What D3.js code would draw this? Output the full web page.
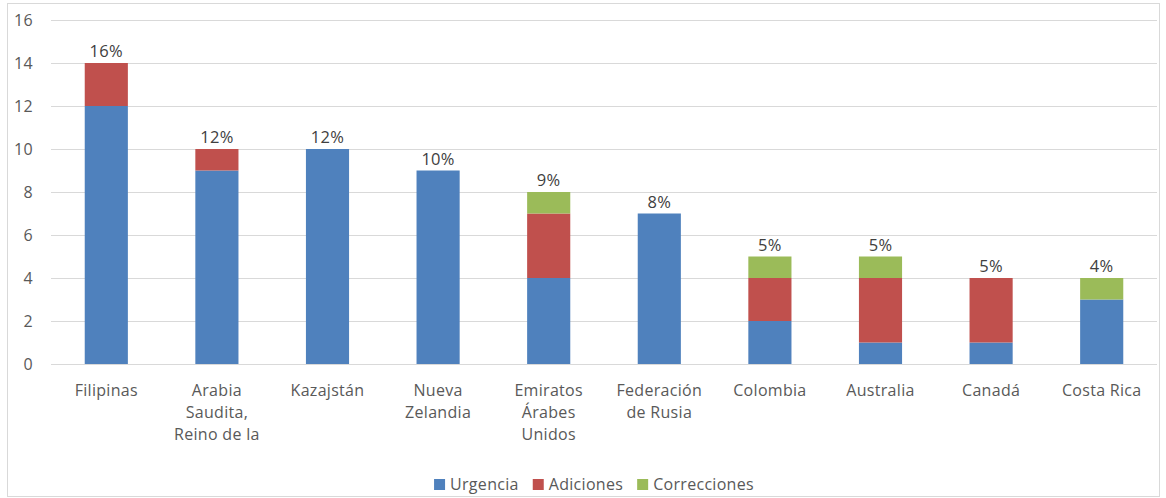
<!DOCTYPE html>
<html><head><meta charset="utf-8">
<script src="https://cdn.jsdelivr.net/npm/d3@7"></script>
<style>body{margin:0;background:#fff;} text{font-family:"Open Sans","Noto Sans",sans-serif;letter-spacing:0.3px;}</style>
</head><body>
<svg id="c" width="1166" height="498"></svg>
<script>
const categories = [["Filipinas"],["Arabia","Saudita,","Reino de la"],["Kazajstán"],["Nueva","Zelandia"],["Emiratos","Árabes","Unidos"],["Federación","de Rusia"],["Colombia"],["Australia"],["Canadá"],["Costa Rica"]];
const urgencia = [12,9,10,9,4,7,2,1,1,3];
const adiciones = [2,1,0,0,3,0,2,3,3,0];
const correcciones = [0,0,0,0,1,0,1,1,0,1];
const pctLabels = ["16%","12%","12%","10%","9%","8%","5%","5%","5%","4%"];
const seriesNames = ["Urgencia","Adiciones","Correcciones"];
const colors = ["#4F81BD","#C0504D","#9BBB59"];
const yTicks = [0,2,4,6,8,10,12,14,16];

(function(){
const svg = d3.select("#c");
svg.append("rect").attr("x",7.5).attr("y",3.5).attr("width",1152).attr("height",493).attr("fill","#fff").attr("stroke","#d9d9d9");

const mL=51, mR=1157, mT=20, mB=364;
const x = d3.scaleBand().domain(d3.range(categories.length)).range([mL,mR]).paddingInner(0.61).paddingOuter(0.305);
const y = d3.scaleLinear().domain([0,16]).range([mB,mT]);

const yAxis = d3.axisLeft(y).tickValues(yTicks).tickSize(-(mR-mL)).tickPadding(18);
const ga = svg.append("g").attr("transform",`translate(${mL},0)`).call(yAxis);
ga.select(".domain").remove();
ga.selectAll(".tick line").attr("stroke","#d9d9d9");
ga.selectAll(".tick text").attr("fill","#595959").style("font-size","16px");

const table = categories.map((c,i)=>({i, Urgencia:urgencia[i], Adiciones:adiciones[i], Correcciones:correcciones[i]}));
const stack = d3.stack().keys(seriesNames)(table);
stack.forEach((s,k)=>{
  svg.append("g").selectAll("rect").data(s).join("rect")
    .attr("x",d=>x(d.data.i)).attr("width",x.bandwidth())
    .attr("y",d=>y(d[1])).attr("height",d=>y(d[0])-y(d[1]))
    .attr("fill",colors[k]);
});

svg.append("g").selectAll("text").data(table).join("text")
  .attr("x",d=>x(d.i)+x.bandwidth()/2)
  .attr("y",d=>y(d.Urgencia+d.Adiciones+d.Correcciones)-6)
  .attr("text-anchor","middle").attr("fill","#404040").style("font-size","16.5px")
  .text(d=>pctLabels[d.i]);

const cg = svg.append("g").selectAll("text").data(categories).join("text")
  .attr("x",(d,i)=>x(i)+x.bandwidth()/2).attr("y",396)
  .attr("text-anchor","middle").attr("fill","#595959").style("font-size","16px");
cg.each(function(d,i){
  const t=d3.select(this);
  d.forEach((line,j)=>t.append("tspan").attr("x",x(i)+x.bandwidth()/2).attr("dy",j===0?0:22).text(line));
});

const lg = svg.append("g");
const items = lg.selectAll("g").data(seriesNames).join("g");
items.append("rect").attr("width",11).attr("height",11).attr("y",-11).attr("fill",(d,i)=>colors[i]);
items.append("text").attr("x",16).attr("y",0).attr("fill","#595959").style("font-size","16px").text(d=>d);
let off=0; const widths=[];
items.each(function(){ widths.push(this.getBBox().width); });
items.attr("transform",(d,i)=>{const t=`translate(${off},0)`; off+=widths[i]+14; return t;});
const total=off-14;
lg.attr("transform",`translate(${594-total/2},490)`);
})();
</script>
</body></html>
